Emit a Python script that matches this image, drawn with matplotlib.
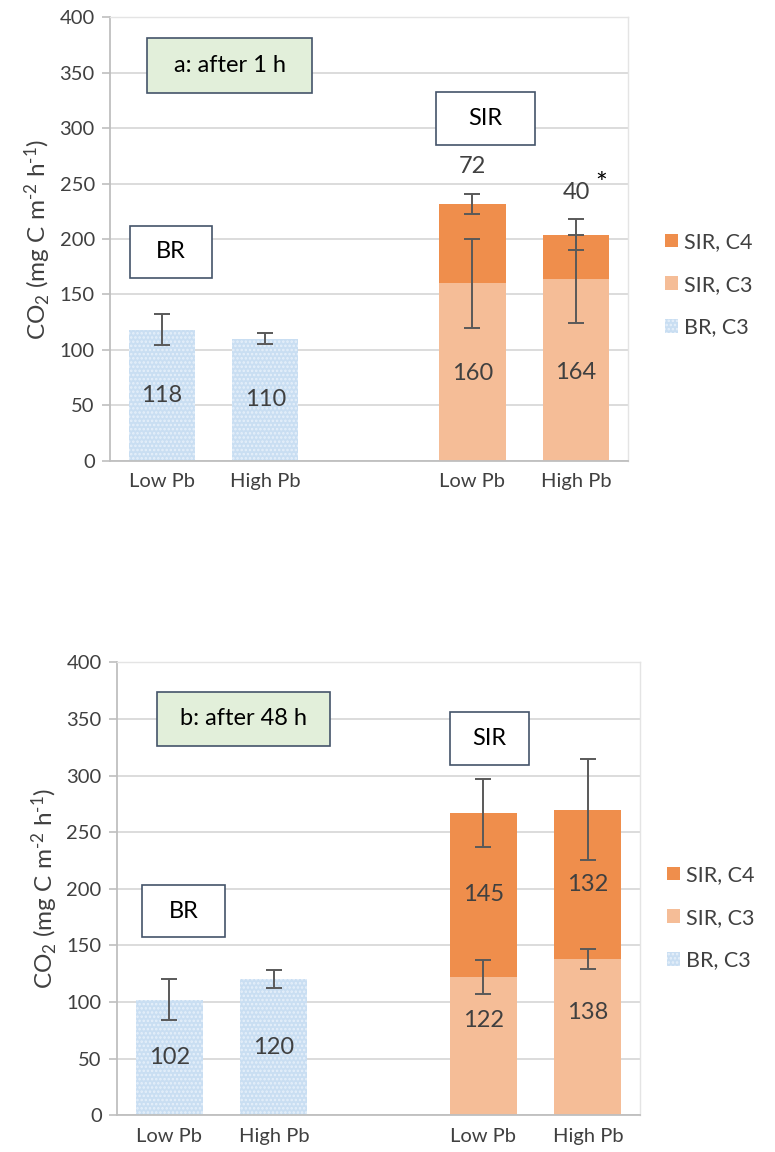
import matplotlib
matplotlib.use("Agg")
import matplotlib.pyplot as plt
from matplotlib.patches import Rectangle
import numpy as np

plt.rcParams['font.family'] = ['Lato', 'DejaVu Sans']
plt.rcParams['hatch.linewidth'] = 1.2
plt.rcParams['mathtext.fontset'] = 'custom'
plt.rcParams['mathtext.rm'] = 'Lato'
plt.rcParams['mathtext.default'] = 'regular'

# category slots (middle slot is empty)
slot_labels = ['Low Pb', 'High Pb', '', 'Low Pb', 'High Pb']
br_pos = [0, 1]
sir_pos = [3, 4]

# panel a: after 1 h
br_c3_a = [118, 110]
br_err_a = [14, 5]
sir_c3_a = [160, 164]
sir_c3_err_a = [40, 40]
sir_c4_a = [72, 40]
sir_tot_err_a = [9, 14]

# panel b: after 48 h
br_c3_b = [102, 120]
br_err_b = [18, 8]
sir_c3_b = [122, 138]
sir_c3_err_b = [15, 9]
sir_c4_b = [145, 132]
sir_tot_err_b = [30, 45]

C4_COL = '#EF8E4C'
C3_COL = '#F5BD97'
BR_COL = '#C9DEF2'
GRID = '#D9D9D9'
TXT = '#404040'
BOX_EDGE = '#44546A'
ERR = '#595959'

fig = plt.figure(figsize=(7.75, 11.52), dpi=100)


def draw_panel(ax, br, br_err, c3, c3_err, c4, tot_err, boxes, c4_inside, c3_label_y):
    ax.set_xlim(-0.5, 4.5)
    ax.set_ylim(0, 400)
    ax.set_yticks(np.arange(0, 401, 50))
    ax.set_xticks(range(5))
    ax.set_xticklabels(slot_labels)
    ax.yaxis.grid(True, color=GRID, lw=1.3)
    ax.set_axisbelow(True)
    for s in ['top', 'right']:
        ax.spines[s].set_color('#E4E4E4')
        ax.spines[s].set_linewidth(1.0)
    for s in ['left', 'bottom']:
        ax.spines[s].set_color('#BFBFBF')
        ax.spines[s].set_linewidth(1.3)
    ax.tick_params(axis='y', colors='#BFBFBF', labelcolor=TXT, labelsize=14.5, length=6, width=1.2, pad=5)
    ax.tick_params(axis='x', length=0, labelcolor=TXT, labelsize=14.5, pad=9)
    ax.set_ylabel('CO$_2$ (mg C m$^{\\text{-}2}$ h$^{\\text{-}1}$)', fontsize=17.5, color=TXT, labelpad=5)

    w = 0.64
    ax.bar(br_pos, br, width=w, color=BR_COL, edgecolor='#E6F0FA', linewidth=0,
           hatch='....', label='BR, C3', zorder=2)
    ax.bar(sir_pos, c3, width=w, color=C3_COL, linewidth=0, label='SIR, C3', zorder=2)
    ax.bar(sir_pos, c4, bottom=c3, width=w, color=C4_COL, linewidth=0, label='SIR, C4', zorder=2)

    ekw = dict(fmt='none', ecolor=ERR, elinewidth=1.4, capsize=6, capthick=1.4, zorder=4)
    ax.errorbar(br_pos, br, yerr=br_err, **ekw)
    ax.errorbar(sir_pos, c3, yerr=c3_err, **ekw)
    tot = np.array(c3) + np.array(c4)
    ax.errorbar(sir_pos, tot, yerr=tot_err, **ekw)

    fs = 17
    for x, v in zip(br_pos, br):
        ax.text(x, v / 2, str(v), ha='center', va='center', fontsize=fs, color=TXT, zorder=5)
    for x, v, ly in zip(sir_pos, c3, c3_label_y):
        ax.text(x, ly, str(v), ha='center', va='center', fontsize=fs, color=TXT, zorder=5)
    for i, (x, v) in enumerate(zip(sir_pos, c4)):
        if c4_inside:
            ax.text(x, c3[i] + v / 2, str(v), ha='center', va='center', fontsize=fs, color=TXT, zorder=5)
        else:
            ax.text(x, tot[i] + tot_err[i] + 24, str(v), ha='center', va='center',
                    fontsize=fs, color=TXT, zorder=5)

    for (x0, x1, y0, y1, txt, face) in boxes:
        ax.add_patch(Rectangle((x0, y0), x1 - x0, y1 - y0, facecolor=face, edgecolor=BOX_EDGE,
                               lw=1.2, zorder=6))
        ax.text((x0 + x1) / 2, (y0 + y1) / 2, txt, ha='center', va='center', fontsize=17,
                color='black', zorder=7)

    h, l = ax.get_legend_handles_labels()
    order = [2, 1, 0]
    return [h[i] for i in order], [l[i] for i in order]


leg_kw = dict(loc='center left', frameon=False, fontsize=15.5, labelcolor=TXT,
              handlelength=0.6, handleheight=0.6, handletextpad=0.25, labelspacing=1.05)

ax1 = fig.add_axes([0.142, 0.600, 0.668, 0.385])
boxes_a = [(-0.14, 1.45, 332, 381, 'a: after 1 h', '#E2EFDA'),
           (-0.31, 0.48, 165, 212, 'BR', 'white'),
           (2.65, 3.6, 285, 333, 'SIR', 'white')]
h, l = draw_panel(ax1, br_c3_a, br_err_a, sir_c3_a, sir_c3_err_a, sir_c4_a, sir_tot_err_a,
                  boxes_a, False, [79, 80])
ax1.text(4.24, 249, '*', ha='center', va='center', fontsize=20, color='black')
ax1.legend(h, l, bbox_to_anchor=(1.035, 0.397), **leg_kw)

ax2 = fig.add_axes([0.151, 0.032, 0.675, 0.393])
boxes_b = [(-0.12, 1.54, 326, 374, 'b: after 48 h', '#E2EFDA'),
           (-0.26, 0.53, 157, 203, 'BR', 'white'),
           (2.68, 3.44, 309, 356, 'SIR', 'white')]
h, l = draw_panel(ax2, br_c3_b, br_err_b, sir_c3_b, sir_c3_err_b, sir_c4_b, sir_tot_err_b,
                  boxes_b, True, [84, 91])
ax2.legend(h, l, bbox_to_anchor=(1.015, 0.436), **leg_kw)

fig.savefig('out.png', dpi=100)
